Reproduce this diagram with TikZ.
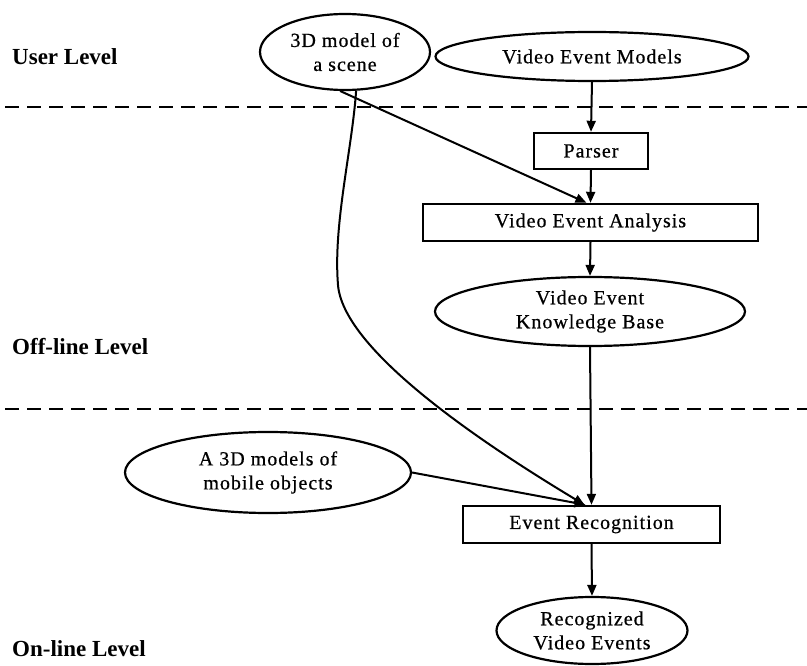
\documentclass[tikz,border=0pt]{standalone}
\usepackage{fontspec}
\setmainfont{Liberation Serif}
\newfontfamily\nodefont[LetterSpace=5,FakeBold=0.6]{Liberation Serif}
\usetikzlibrary{shapes.geometric,arrows.meta}
\tikzset{
  ell/.style={ellipse,draw,line width=2.2pt,inner sep=0pt,align=center,font=\nodefont\fontsize{20}{24}\selectfont},
  boxnode/.style={rectangle,draw,line width=2.4pt,inner sep=0pt,align=center,font=\nodefont\fontsize{20}{24}\selectfont},
  arr/.style={line width=2pt,-{Triangle[length=11pt,width=9pt]}},
  levellabel/.style={anchor=west,inner sep=0pt,font=\bfseries\fontsize{23}{27}\selectfont},
  sep/.style={line width=2.2pt,dash pattern=on 14pt off 8pt}
}
\begin{document}
\begin{tikzpicture}[x=1pt,y=-1pt]
\useasboundingbox[fill=white] (0,0) rectangle (807,666);
% separators
\coordinate (s1a) at (5,107); \coordinate (s1b) at (807,107);
\coordinate (s2a) at (5,409); \coordinate (s2b) at (807,409);
\draw[sep] (s1a) -- (s1b);
\draw[sep] (s2a) -- (s2b);
% level labels
\node[levellabel] (ul) at (12,57) {User Level};
\node[levellabel] (ol) at (12,347) {Off-line Level};
\node[levellabel] (nl) at (12,649) {On-line Level};
% nodes
\node[ell,minimum width=170pt,minimum height=76pt] (scene) at (345,52) {3D model of\\a scene};
\node[ell,minimum width=313pt,minimum height=49pt] (vem) at (592,56.5) {Video Event Models};
\node[boxnode,minimum width=114pt,minimum height=36pt] (parser) at (591,151) {Parser};
\node[boxnode,minimum width=335pt,minimum height=37pt] (vea) at (590.5,222.5) {Video Event Analysis};
\node[ell,minimum width=310pt,minimum height=69pt] (vekb) at (590,311.5) {Video Event\\Knowledge Base};
\node[ell,minimum width=286pt,minimum height=81pt] (mobile) at (268,472.5) {A 3D models of\\mobile objects};
\node[boxnode,minimum width=257pt,minimum height=37pt] (er) at (591.5,524.5) {Event Recognition};
\node[ell,minimum width=191pt,minimum height=67pt] (rve) at (592,630.5) {Recognized\\Video Events};
% connectors
\draw[arr] (vem.south) -- (parser.north);
\draw[arr] (parser.south) -- (vea.north);
\draw[arr] (scene.-97) -- ([xshift=-4pt]vea.north);
\draw[arr] (vea.south) -- (vekb.north);
\draw[arr] (vekb.south) -- (er.north);
\draw[arr] (scene.-74) .. controls (352,150) and (333,225) .. (338,285)
  .. controls (343,345) and (460,430) .. ([xshift=-7pt]er.north);
\draw[arr] (mobile.east) -- ([xshift=-6pt]er.north);
\draw[arr] (er.south) -- (rve.north);
\end{tikzpicture}
\end{document}
